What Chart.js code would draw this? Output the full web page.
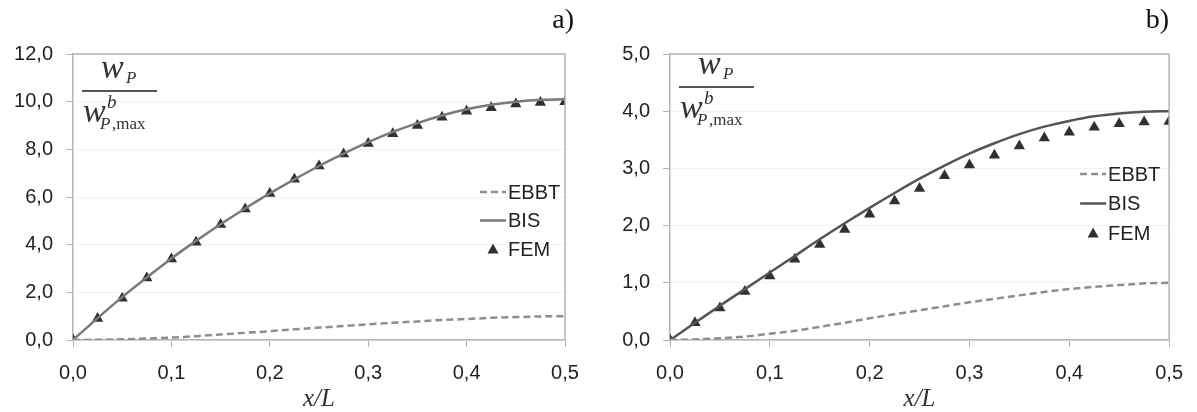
<!DOCTYPE html>
<html>
<head>
<meta charset="utf-8">
<script src="https://cdn.jsdelivr.net/npm/chart.js@4.4.1/dist/chart.umd.min.js"></script>
<style>
html, body { margin: 0; padding: 0; background: #fff; }
#wrap { position: relative; width: 1197px; height: 412px; }
#chartA { position: absolute; left: 0; top: 0; }
#chartB { position: absolute; left: 598px; top: 0; }
</style>
</head>
<body>
<div id="wrap">
  <canvas id="chartA" width="598" height="412"></canvas>
  <canvas id="chartB" width="599" height="412"></canvas>
</div>
<script>
// x/L positions of the computed points
const xPos = [0, 0.025, 0.05, 0.075, 0.1, 0.125, 0.15, 0.175, 0.2, 0.225, 0.25,
              0.275, 0.3, 0.325, 0.35, 0.375, 0.4, 0.425, 0.45, 0.475, 0.5];

const xTickLabels = ['0,0', '0,1', '0,2', '0,3', '0,4', '0,5'];
const yTickLabelsA = ['0,0', '2,0', '4,0', '6,0', '8,0', '10,0', '12,0'];
const yTickLabelsB = ['0,0', '1,0', '2,0', '3,0', '4,0', '5,0'];
const seriesNames = ['EBBT', 'BIS', 'FEM'];

// panel a)
const ebbtA = [0, 0.01, 0.03, 0.06, 0.1, 0.16, 0.23, 0.3, 0.37, 0.45, 0.52,
               0.59, 0.66, 0.72, 0.78, 0.84, 0.88, 0.93, 0.96, 0.99, 1.0];
const bisA  = [0, 0.92, 1.8, 2.62, 3.42, 4.16, 4.86, 5.52, 6.15, 6.74, 7.3,
               7.82, 8.3, 8.73, 9.1, 9.42, 9.68, 9.87, 10.0, 10.08, 10.1];
const femA  = [0, 0.9, 1.75, 2.6, 3.4, 4.1, 4.85, 5.5, 6.15, 6.75, 7.3,
               7.8, 8.25, 8.65, 9.0, 9.35, 9.6, 9.75, 9.9, 9.97, 10.0];

// panel b)
const ebbtB = [0, 0.01, 0.03, 0.06, 0.11, 0.16, 0.23, 0.3, 0.38, 0.45, 0.52,
               0.59, 0.66, 0.72, 0.78, 0.84, 0.89, 0.93, 0.96, 0.99, 1.0];
const bisB  = [0, 0.3, 0.6, 0.89, 1.18, 1.47, 1.76, 2.04, 2.31, 2.57, 2.82,
               3.05, 3.26, 3.44, 3.6, 3.73, 3.83, 3.91, 3.96, 3.99, 4.0];
const femB  = [0, 0.3, 0.56, 0.85, 1.12, 1.41, 1.67, 1.93, 2.2, 2.43, 2.65,
               2.87, 3.06, 3.23, 3.39, 3.53, 3.63, 3.72, 3.78, 3.81, 3.82];

const tickFont = { family: "'Liberation Sans Narrow', 'Liberation Sans', Arial, sans-serif", size: 20 };
const serif = "'Liberation Serif', 'Times New Roman', serif";

function pts(vals) {
    return vals.map((v, i) => ({ x: xPos[i], y: v }));
}

// border, y label fraction, panel letter and legend
const decor = {
    id: 'decor',
    afterDatasetsDraw(chart, args, o) {
        const ctx = chart.ctx;
        const a = chart.chartArea;
        ctx.save();

        ctx.strokeStyle = '#b4b4b4';
        ctx.lineWidth = 1.5;
        ctx.beginPath();
        ctx.moveTo(a.left, a.top);
        ctx.lineTo(a.right, a.top);
        ctx.lineTo(a.right, a.bottom);
        ctx.stroke();

        // fraction w_P / w^b_P,max
        const fx = a.left, fy = o.fracY;
        ctx.fillStyle = '#333';
        ctx.textBaseline = 'alphabetic';
        ctx.textAlign = 'left';
        ctx.font = 'italic 34px ' + serif;
        ctx.fillText('w', fx + 28, fy - 13);
        ctx.font = 'italic 17px ' + serif;
        ctx.fillText('P', fx + 53, fy - 8);
        ctx.strokeStyle = '#555';
        ctx.lineWidth = 2;
        ctx.beginPath();
        ctx.moveTo(fx + 9, fy);
        ctx.lineTo(fx + 84, fy);
        ctx.stroke();
        ctx.font = 'italic 34px ' + serif;
        ctx.fillText('w', fx + 10, fy + 31);
        ctx.font = 'italic 19px ' + serif;
        ctx.fillText('b', fx + 34, fy + 17);
        ctx.font = 'italic 17px ' + serif;
        ctx.fillText('P', fx + 27, fy + 38);
        ctx.font = '17px ' + serif;
        ctx.fillText(',max', fx + 39, fy + 38);

        // panel letter
        ctx.font = '28px ' + serif;
        ctx.textAlign = 'right';
        ctx.textBaseline = 'middle';
        ctx.fillStyle = '#111';
        ctx.fillText(o.panel, a.right + o.panelDx, 21);

        // legend
        ctx.font = tickFont.size + 'px ' + tickFont.family;
        ctx.textAlign = 'left';
        ctx.textBaseline = 'middle';
        chart.data.datasets.forEach((ds, i) => {
            const y = a.top + o.legendTop + i * o.legendGap;
            const x0 = a.right - o.legendRight;
            if (ds.pointStyle === 'triangle') {
                const cx = x0 + 13, r = 5.5;
                ctx.fillStyle = ds.pointBackgroundColor;
                ctx.beginPath();
                ctx.moveTo(cx, y - r);
                ctx.lineTo(cx + r, y + r * 0.8);
                ctx.lineTo(cx - r, y + r * 0.8);
                ctx.closePath();
                ctx.fill();
            } else {
                ctx.strokeStyle = ds.borderColor;
                ctx.lineWidth = ds.borderWidth;
                ctx.setLineDash(ds.borderDash || []);
                ctx.beginPath();
                ctx.moveTo(x0, y);
                ctx.lineTo(x0 + 26, y);
                ctx.stroke();
                ctx.setLineDash([]);
            }
            ctx.fillStyle = '#222';
            ctx.fillText(ds.label, x0 + 28, y + 1);
        });
        ctx.restore();
    }
};

function makeChart(id, ebbt, bis, fem, yMax, yStep, yLabels, bisColor, axisW, padRight, deco) {
    return new Chart(document.getElementById(id), {
        type: 'line',
        data: {
            datasets: [{
                label: seriesNames[0],
                data: pts(ebbt),
                borderColor: '#8e8e8e',
                borderWidth: 2.5,
                borderDash: [7, 4],
                pointRadius: 0,
                cubicInterpolationMode: 'monotone'
            }, {
                label: seriesNames[1],
                data: pts(bis),
                borderColor: bisColor,
                borderWidth: 2.5,
                pointRadius: 0,
                cubicInterpolationMode: 'monotone'
            }, {
                label: seriesNames[2],
                data: pts(fem),
                showLine: false,
                pointStyle: 'triangle',
                pointRadius: 6.5,
                pointBackgroundColor: '#303030',
                pointBorderColor: '#303030',
                pointBorderWidth: 0
            }]
        },
        options: {
            responsive: false,
            animation: false,
            devicePixelRatio: 1,
            layout: { padding: { left: 0, top: 54, right: padRight, bottom: 0 } },
            plugins: {
                legend: { display: false },
                tooltip: { enabled: false },
                decor: deco
            },
            scales: {
                x: {
                    type: 'linear',
                    min: 0,
                    max: 0.5,
                    border: { color: '#b4b4b4', width: 1.5 },
                    grid: { drawOnChartArea: false, color: '#b4b4b4', tickLength: 7 },
                    ticks: {
                        stepSize: 0.1,
                        color: '#222',
                        font: tickFont,
                        padding: 14,
                        maxRotation: 0,
                        callback: (v, i) => xTickLabels[i]
                    },
                    title: {
                        display: true,
                        text: 'x/L',
                        color: '#333',
                        font: { family: serif, size: 25, style: 'italic', lineHeight: 1 },
                        padding: { top: 0, bottom: 0 }
                    },
                    afterFit: s => { s.height = 72; }
                },
                y: {
                    min: 0,
                    max: yMax,
                    border: { color: '#b4b4b4', width: 1.5 },
                    grid: { color: '#f2f2f2', tickColor: '#b4b4b4', tickLength: 7 },
                    ticks: {
                        stepSize: yStep,
                        color: '#222',
                        font: tickFont,
                        padding: 13,
                        callback: (v, i) => yLabels[i]
                    },
                    afterFit: s => { s.width = axisW; }
                }
            }
        },
        plugins: [decor]
    });
}

makeChart('chartA', ebbtA, bisA, femA, 12, 2, yTickLabelsA, '#7a7a7a', 73, 33,
    { fracY: 91, panel: 'a)', panelDx: 9, legendTop: 138, legendGap: 28.5, legendRight: 85 });
makeChart('chartB', ebbtB, bisB, femB, 5, 1, yTickLabelsB, '#555555', 72, 24,
    { fracY: 87, panel: 'b)', panelDx: 0, legendTop: 120, legendGap: 29.5, legendRight: 89 });
</script>
</body>
</html>
